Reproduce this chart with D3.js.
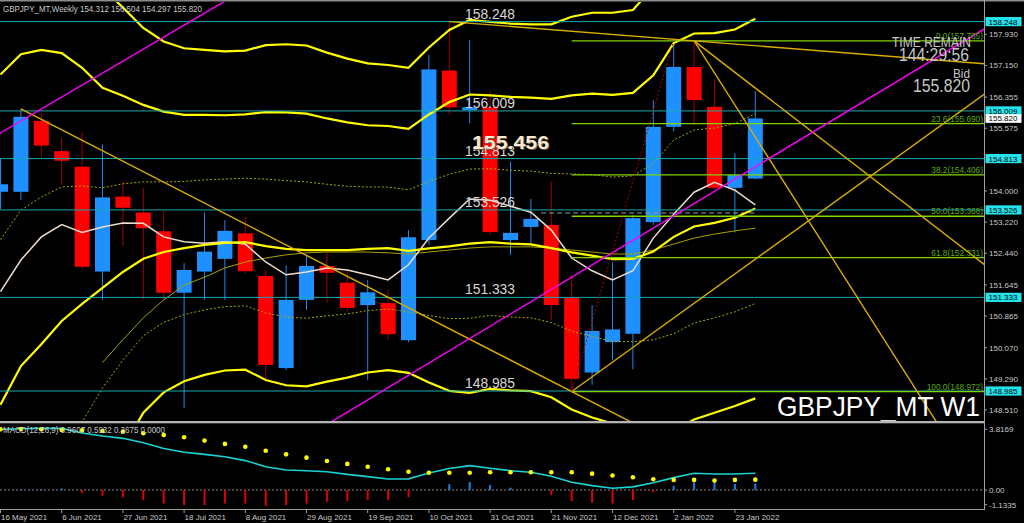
<!DOCTYPE html>
<html><head><meta charset="utf-8">
<script src="https://cdn.jsdelivr.net/npm/d3@7"></script>
<style>html,body{margin:0;padding:0;background:#000;overflow:hidden}</style>
</head><body>
<svg id="c" width="1024" height="523"></svg>
<script>
// ---------- data (weekly bars, index 0 = week of 16 May 2021) ----------
const openP  = [153.98,153.98,155.76,155.00,154.61,151.98,153.86,153.46,152.99,151.45,151.98,152.30,152.94,151.87,149.56,151.27,152.12,151.70,151.14,151.19,150.26,152.77,157.02,156.03,156.10,152.77,153.10,153.15,151.33,149.45,150.21,150.42,153.22,155.61,157.11,156.11,154.08,154.312];
const highP  = [154.83,156.06,155.96,155.34,155.49,155.17,154.23,154.08,153.50,152.19,153.46,153.27,153.34,152.02,152.14,152.40,152.45,152.02,151.77,151.52,153.02,157.41,158.248,157.79,156.52,154.74,153.80,154.23,151.89,151.14,152.22,153.40,156.28,157.765,157.70,156.79,154.95,156.504];
const lowP   = [153.55,153.77,154.85,154.15,152.05,151.27,152.62,151.27,151.27,148.55,151.27,151.27,151.94,149.26,149.51,151.02,151.20,150.98,149.26,150.27,150.21,152.65,155.92,155.70,152.90,152.40,152.70,150.76,148.972,149.14,149.76,149.53,153.15,155.50,155.66,154.03,152.96,154.297];
const closeP = [154.17,155.86,155.14,154.76,152.10,153.84,153.58,153.07,151.45,152.02,152.48,153.00,151.99,149.64,151.27,152.12,151.95,151.07,151.46,150.41,152.84,157.05,156.10,156.10,152.97,152.95,153.30,151.14,149.29,150.49,150.53,153.32,155.61,157.11,156.28,154.08,154.40,155.820];

const bbMid = [148.64,149.61,150.16,150.74,151.17,151.57,151.97,152.30,152.47,152.57,152.65,152.70,152.72,152.62,152.55,152.52,152.52,152.52,152.55,152.57,152.50,152.56,152.61,152.68,152.72,152.68,152.66,152.57,152.46,152.38,152.29,152.30,152.48,152.85,153.11,153.20,153.33,153.56];
const bbDev = [4.14,3.91,3.69,3.36,2.96,2.51,2.21,1.93,1.76,1.67,1.63,1.60,1.60,1.68,1.71,1.71,1.65,1.60,1.55,1.53,1.53,1.68,1.81,1.87,1.84,1.84,1.84,1.87,1.97,2.03,2.06,2.08,2.21,2.43,2.42,2.38,2.36,2.38];
const maWhite = [151.48,152.27,152.85,153.16,152.96,153.10,153.20,153.19,152.85,152.73,152.69,152.73,152.67,152.22,151.90,151.97,152.07,152.02,151.90,151.77,152.15,152.82,153.32,153.80,153.77,153.62,153.47,153.02,152.32,152.00,151.77,152.00,152.82,153.42,153.97,154.22,154.02,153.65];
const maOlive = [null,null,null,null,null,149.70,150.27,150.82,151.27,151.64,151.84,152.07,152.22,152.32,152.40,152.45,152.47,152.47,152.47,152.45,152.42,152.47,152.52,152.57,152.60,152.60,152.60,152.57,152.52,152.47,152.42,152.42,152.52,152.67,152.82,152.92,153.00,153.07];

const macdMain = [3.49,3.52,3.54,3.54,3.28,3.10,2.97,2.72,2.39,2.17,2.05,1.91,1.69,1.34,1.15,1.11,1.05,0.90,0.77,0.63,0.64,0.98,1.24,1.40,1.25,1.11,1.02,0.79,0.44,0.25,0.10,0.18,0.42,0.71,0.96,0.92,0.92,0.9607];
const macdSignal = [3.49,3.51,3.49,3.45,3.43,3.39,3.35,3.26,3.16,3.03,2.84,2.65,2.49,2.26,2.05,1.86,1.67,1.50,1.34,1.19,1.05,0.99,0.99,0.99,1.02,1.02,1.02,1.02,1.02,0.94,0.83,0.73,0.62,0.58,0.58,0.54,0.58,0.5932];
const macdHist = [0.0,0.05,0.06,0.08,-0.19,-0.33,-0.42,-0.57,-0.77,-0.86,-0.86,-0.77,-0.77,-0.90,-0.86,-0.77,-0.67,-0.63,-0.57,-0.57,-0.42,0.04,0.33,0.46,0.29,0.13,0.0,-0.29,-0.63,-0.73,-0.77,-0.57,-0.15,0.25,0.45,0.42,0.35,0.3675];

const dateTickWeeks = [0,3,6,9,12,15,18,21,24,27,30,33,36];
const dateTickLabels = ["16 May 2021","6 Jun 2021","27 Jun 2021","18 Jul 2021","8 Aug 2021","29 Aug 2021","19 Sep 2021","10 Oct 2021","31 Oct 2021","21 Nov 2021","12 Dec 2021","2 Jan 2022","23 Jan 2022"];
const priceTicks = [157.930,157.150,156.355,155.575,154.000,153.220,152.440,151.645,150.865,150.070,149.290,148.510];
const macdTicks = [3.8169,0.00,-1.1335];
const macdTickLabels = ["3.8169","0.00","-1.1335"];

const levelPrices = [158.248,156.009,154.813,153.526,151.333,148.985];
const fibPrices = [157.765,155.690,154.406,153.368,152.331,148.972];
const fibNames = ["0.0","23.6","38.2","50.0","61.8","100.0"];
const fibStartWeek = 28;
const bidPrice = 155.820;
const dashedLevel = [26.5, 37, 153.45];   // grey dashed horizontal: from week, to week, price

// trend lines: [week1, price1, week2, price2, mode]
const goldLines = [
  [1,156.06,28,148.972,"ray"],
  [28,148.972,37,152.29,"ray"],
  [22,158.248,34,157.765,"ray"],
  [34,157.765,40,152.94,"ray"],
  [34,157.765,40,155.40,"ray"]
];
const magentaLines = [
  [0,155.455,10,158.46,"both"],
  [28,151.84,37,154.61,"both"]
];
const zigzag = [[28,148.972],[33,157.765]];

// ---------- scales ----------
const W = 1024, H = 523;
const xS = d3.scaleLinear().domain([0, 48.2]).range([0.5, 983.78]);
const yS = d3.scaleLinear().domain([148.233, 158.715]).range([421, 3]);
const yM = d3.scaleLinear().domain([-1.1335, 3.8169]).range([509.7, 423.6]);

const svg = d3.select("#c");
svg.append("rect").attr("width", W).attr("height", H).attr("fill", "#000");
const defs = svg.append("defs");
defs.append("clipPath").attr("id","mainClip").append("rect").attr("x",0).attr("y",2).attr("width",984).attr("height",419);
defs.append("clipPath").attr("id","macdClip").append("rect").attr("x",0).attr("y",423.5).attr("width",984).attr("height",86);

const FONT = "'Liberation Sans', Arial, sans-serif";
const main = svg.append("g").attr("clip-path","url(#mainClip)");

// ---------- candles ----------
const idx = d3.range(closeP.length);
const bull = i => closeP[i] >= openP[i];
main.append("g").selectAll("line").data(idx).join("line")
  .attr("x1", i => xS(i)).attr("x2", i => xS(i))
  .attr("y1", i => yS(highP[i])).attr("y2", i => yS(lowP[i]))
  .attr("stroke", i => bull(i) ? "#1e88f0" : "#a00000").attr("stroke-width", 1);
main.append("g").selectAll("rect").data(idx).join("rect")
  .attr("x", i => xS(i) - 7.5).attr("width", 15)
  .attr("y", i => yS(Math.max(openP[i], closeP[i])))
  .attr("height", i => Math.max(1, Math.abs(yS(openP[i]) - yS(closeP[i]))))
  .attr("fill", i => bull(i) ? "#1e90ff" : "#ff0000");

// ---------- indicator lines ----------
const lineGen = arr => d3.line().defined(i => arr[i] != null).x(i => xS(i)).y(i => yS(arr[i]))(idx);
[1,-1].forEach(k => {
  const arr = bbMid.map((m,i) => m + k*bbDev[i]);
  main.append("path").attr("d", lineGen(arr)).attr("fill","none")
    .attr("stroke","#a8a800").attr("stroke-width",1).attr("stroke-dasharray","2,2");
});
main.append("path").attr("d", lineGen(maOlive)).attr("fill","none").attr("stroke","#a6a000").attr("stroke-width",1);
main.append("line").attr("x1",xS(dashedLevel[0])).attr("x2",xS(dashedLevel[1]))
  .attr("y1",yS(dashedLevel[2])).attr("y2",yS(dashedLevel[2]))
  .attr("stroke","#9a9a9a").attr("stroke-width",1).attr("stroke-dasharray","5,3");
main.append("path").attr("d", lineGen(maWhite)).attr("fill","none").attr("stroke","#ecdccb").attr("stroke-width",1.5);
[0,2,-2,3,-3].forEach(k => {
  const arr = bbMid.map((m,i) => m + k*bbDev[i]);
  main.append("path").attr("d", lineGen(arr)).attr("fill","none")
    .attr("stroke","#ffff00").attr("stroke-width",2.2);
});

// ---------- horizontal levels ----------
main.append("g").selectAll("line").data(levelPrices).join("line")
  .attr("x1",0).attr("x2",984).attr("y1",d=>yS(d)).attr("y2",d=>yS(d))
  .attr("stroke","#17a9b0").attr("stroke-width",1);
main.append("g").selectAll("line").data(fibPrices).join("line")
  .attr("x1",xS(fibStartWeek)).attr("x2",984).attr("y1",d=>yS(d)).attr("y2",d=>yS(d))
  .attr("stroke","#7fd400").attr("stroke-width",1.3);

// ---------- trend lines ----------
function segPath(l){
  const [w1,p1,w2,p2,mode] = l;
  const x1 = xS(w1), y1 = yS(p1), x2 = xS(w2), y2 = yS(p2);
  const s = (y2-y1)/(x2-x1);
  const xe = 1600, xb = mode === "both" ? -600 : x1;
  return [[xb, y1 + s*(xb-x1)], [xe, y1 + s*(xe-x1)]];
}
goldLines.forEach(l => {
  const p = segPath(l);
  main.append("line").attr("x1",p[0][0]).attr("y1",p[0][1]).attr("x2",p[1][0]).attr("y2",p[1][1])
    .attr("stroke","#d9ac00").attr("stroke-width",1.4);
});
magentaLines.forEach(l => {
  const p = segPath(l);
  main.append("line").attr("x1",p[0][0]).attr("y1",p[0][1]).attr("x2",p[1][0]).attr("y2",p[1][1])
    .attr("stroke","#ff00ff").attr("stroke-width",1.4);
});
main.append("path").attr("d", d3.line().x(d=>xS(d[0])).y(d=>yS(d[1]))(zigzag))
  .attr("fill","none").attr("stroke","#b00000").attr("stroke-width",1).attr("stroke-dasharray","2,2");

// ---------- texts in main panel ----------
main.append("g").selectAll("text").data(levelPrices).join("text")
  .attr("x",465).attr("y",d=>yS(d)-3).attr("font-family",FONT).attr("font-size",15)
  .attr("fill","#d8d8d8").attr("textLength",50).attr("lengthAdjust","spacingAndGlyphs")
  .text(d=>d3.format(".3f")(d));
main.append("g").selectAll("text").data(fibPrices).join("text")
  .attr("x",983).attr("y",d=>yS(d)-2).attr("text-anchor","end").attr("font-family",FONT).attr("font-size",8.3)
  .attr("fill","#5aaa10").text((d,i)=>fibNames[i]+"("+d3.format(".3f")(d)+")");

main.append("text").attr("x",473).attr("y",149.5).attr("font-family",FONT).attr("font-size",19).attr("font-weight","bold")
  .attr("fill","#6b5a3c").attr("textLength",77).attr("lengthAdjust","spacingAndGlyphs").text(d3.format(".3f")(155.456));
main.append("text").attr("x",472).attr("y",148.5).attr("font-family",FONT).attr("font-size",19).attr("font-weight","bold")
  .attr("fill","#f6e8d2").attr("textLength",77).attr("lengthAdjust","spacingAndGlyphs").text(d3.format(".3f")(155.456));

const info = [
  {t:"TIME REMAIN", x:892, y:46.7, fs:15.5, tl:79},
  {t:"144:29:56", x:899, y:60.5, fs:18, tl:70},
  {t:"Bid", x:953, y:77.5, fs:13, tl:17},
  {t:d3.format(".3f")(bidPrice), x:913, y:92, fs:18.5, tl:57}
];
svg.append("g").selectAll("text").data(info).join("text")
  .attr("x",d=>d.x).attr("y",d=>d.y).attr("font-family",FONT).attr("font-size",d=>d.fs)
  .attr("fill","#c6c6c6").attr("textLength",d=>d.tl).attr("lengthAdjust","spacingAndGlyphs").text(d=>d.t);

svg.append("text").attr("x",777).attr("y",415.5).attr("font-family",FONT).attr("font-size",28)
  .attr("fill","#ffffff").attr("textLength",203).attr("lengthAdjust","spacingAndGlyphs").text("GBPJPY_MT W1");

svg.append("text").attr("x",3).attr("y",11.5).attr("font-family",FONT).attr("font-size",8.5)
  .attr("fill","#c8c8c8").attr("textLength",199).attr("lengthAdjust","spacingAndGlyphs")
  .text("GBPJPY_MT,Weekly  154.312 156.504 154.297 155.820");

// ---------- MACD panel ----------
const sub = svg.append("g").attr("clip-path","url(#macdClip)");
sub.append("line").attr("x1",0).attr("x2",984).attr("y1",yM(0)).attr("y2",yM(0))
  .attr("stroke","#8a8a8a").attr("stroke-width",1).attr("stroke-dasharray","2,2");
sub.append("g").selectAll("line").data(idx).join("line")
  .attr("x1",i=>xS(i)).attr("x2",i=>xS(i)).attr("y1",yM(0)).attr("y2",i=>yM(macdHist[i]))
  .attr("stroke",i=>macdHist[i]>=0?"#1e7fe0":"#e00000").attr("stroke-width",2);
sub.append("path").attr("d", d3.line().x(i=>xS(i)).y(i=>yM(macdMain[i]))(idx))
  .attr("fill","none").attr("stroke","#19d2d2").attr("stroke-width",1.6);
sub.append("g").selectAll("circle").data(idx).join("circle")
  .attr("cx",i=>xS(i)).attr("cy",i=>yM(macdSignal[i])).attr("r",2.3).attr("fill","#ffff00");
svg.append("text").attr("x",3).attr("y",433).attr("font-family",FONT).attr("font-size",8.3)
  .attr("fill","#c8c8c8").attr("textLength",162).attr("lengthAdjust","spacingAndGlyphs")
  .text("MACD(12,26,9) 0.9607 0.5932 0.3675 0.0000");

// ---------- frame & axes ----------
svg.append("rect").attr("x",0).attr("y",0).attr("width",W).attr("height",1.5).attr("fill","#8a8a8a");
svg.append("rect").attr("x",0).attr("y",421).attr("width",985).attr("height",2.3).attr("fill","#b4b4b4");
svg.append("line").attr("x1",984.5).attr("x2",984.5).attr("y1",0).attr("y2",510).attr("stroke","#a0a0a0");
svg.append("line").attr("x1",0).attr("x2",985).attr("y1",509.5).attr("y2",509.5).attr("stroke","#a0a0a0");

const axG = svg.append("g").attr("font-family",FONT).attr("font-size",8).attr("fill","#c8c8c8");
priceTicks.forEach(t => {
  axG.append("line").attr("x1",984).attr("x2",987).attr("y1",yS(t)).attr("y2",yS(t)).attr("stroke","#a0a0a0");
  axG.append("text").attr("x",989).attr("y",yS(t)+3).text(d3.format(".3f")(t));
});
const macdLabelShift = [5.7, 0, -5];
macdTicks.forEach((t,i) => {
  const yy = yM(t) + macdLabelShift[i];
  axG.append("line").attr("x1",984).attr("x2",987).attr("y1",yy).attr("y2",yy).attr("stroke","#a0a0a0");
  axG.append("text").attr("x",989).attr("y",yy+3).text(macdTickLabels[i]);
});
levelPrices.forEach(p => {
  axG.append("rect").attr("x",985.5).attr("y",yS(p)-4.6).attr("width",36).attr("height",9.2).attr("fill","#22e4ec");
  axG.append("text").attr("x",988.5).attr("y",yS(p)+3).attr("fill","#000").text(d3.format(".3f")(p));
});
axG.append("rect").attr("x",985.5).attr("y",yS(bidPrice)-4.2).attr("width",36).attr("height",8.6).attr("fill","#ffffff");
axG.append("text").attr("x",988.5).attr("y",yS(bidPrice)+3).attr("fill","#000").text(d3.format(".3f")(bidPrice));

dateTickWeeks.forEach((w,i) => {
  axG.append("line").attr("x1",xS(w)).attr("x2",xS(w)).attr("y1",509.5).attr("y2",513).attr("stroke","#a0a0a0");
  axG.append("text").attr("x",xS(w)+0.5).attr("y",519.8).text(dateTickLabels[i]);
});
</script>
</body></html>
